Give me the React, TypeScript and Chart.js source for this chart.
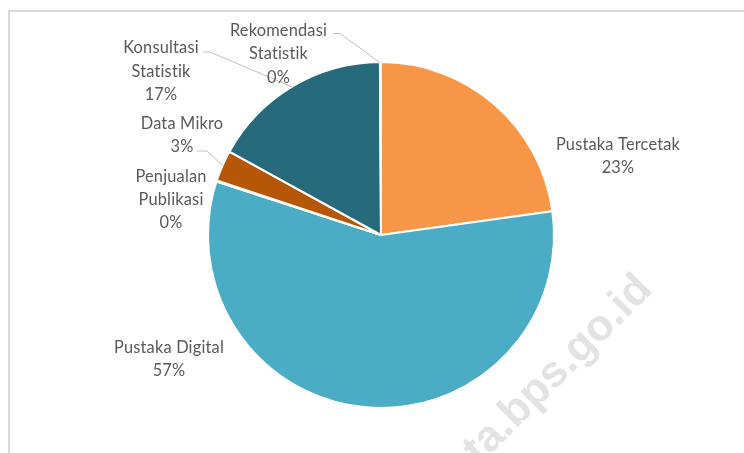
import React, { useEffect, useRef } from 'react';
import { Chart, registerables } from 'chart.js';

Chart.register(...registerables);

// ---- data ----
const categories = [
  'Pustaka Tercetak',
  'Pustaka Digital',
  'Penjualan Publikasi',
  'Data Mikro',
  'Konsultasi Statistik',
  'Rekomendasi Statistik',
];
const values = [22.8, 57.2, 0.1, 2.9, 16.9, 0.1];
const colors = ['#F79646', '#4BACC6', '#9BBB59', '#B65708', '#276A7C', '#77933C'];
const labelLines = [
  ['Pustaka Tercetak'],
  ['Pustaka Digital'],
  ['Penjualan', 'Publikasi'],
  ['Data Mikro'],
  ['Konsultasi', 'Statistik'],
  ['Rekomendasi', 'Statistik'],
];
const watermarkText = 'ta.bps.go.id';

// ---- layout (label placement, not data) ----
const W = 744;
const H = 453;
const lineH = 23.3;
const labelLayout = [
  { cx: 618, base: 150 },
  { cx: 169, base: 352.7 },
  { cx: 171, base: 181.5 },
  { cx: 182, base: 129 },
  { cx: 161, base: 53.3 },
  { cx: 278.5, base: 36 },
];
const leaders: (null | { start: [number, number]; elbow: [number, number] })[] = [
  null,
  null,
  null,
  { start: [197, 151], elbow: [207, 151] },
  { start: [203, 52], elbow: [210, 52] },
  { start: [333, 33.5], elbow: [340, 33.5] },
];

const labelPlugin = {
  id: 'pieDecor',
  beforeDraw(chart: any) {
    const ctx = chart.ctx;
    ctx.save();
    ctx.fillStyle = '#FFFFFF';
    ctx.fillRect(0, 0, W, H);
    ctx.fillStyle = '#D9D9D9';
    ctx.fillRect(8, 10, W - 8, 2);
    ctx.fillRect(8, 10, 2, H - 10);
    ctx.restore();
  },
  beforeDatasetsDraw(chart: any) {
    const ctx = chart.ctx;
    ctx.save();
    ctx.translate(654, 291);
    ctx.rotate(-Math.PI / 4);
    ctx.font = 'bold 44px "Liberation Sans", Arial, sans-serif';
    ctx.fillStyle = '#E3E3E3';
    ctx.textAlign = 'right';
    ctx.textBaseline = 'alphabetic';
    ctx.fillText(watermarkText, 0, 0);
    ctx.restore();
  },
  afterDatasetsDraw(chart: any) {
    const ctx = chart.ctx;
    const meta = chart.getDatasetMeta(0);
    const total = values.reduce((a, b) => a + b, 0);
    ctx.save();
    ctx.font = '17px Lato, "Open Sans", sans-serif';
    try {
      (ctx as any).letterSpacing = '0.2px';
    } catch (e) {
      /* ignore */
    }
    const measured = ctx.measureText('Pustaka Digital').width;
    const sx = measured > 0 ? 110 / measured : 1;
    ctx.fillStyle = '#595959';
    ctx.textAlign = 'center';
    ctx.textBaseline = 'alphabetic';
    labelLines.forEach((lines, i) => {
      const pct = Math.round((values[i] / total) * 100) + '%';
      const all = [...lines, pct];
      const L = labelLayout[i];
      all.forEach((t, j) => {
        ctx.save();
        ctx.translate(L.cx, L.base + j * lineH);
        ctx.scale(sx, 1);
        ctx.fillText(t, 0, 0);
        ctx.restore();
      });
      const lead = leaders[i];
      if (lead) {
        const arc = meta.data[i];
        const p = arc.getProps(['x', 'y', 'startAngle', 'endAngle', 'outerRadius'], true);
        const mid = (p.startAngle + p.endAngle) / 2;
        const r = p.outerRadius - 1;
        const ex = p.x + Math.cos(mid) * r;
        const ey = p.y + Math.sin(mid) * r;
        ctx.beginPath();
        ctx.strokeStyle = '#BFBFBF';
        ctx.lineWidth = 1;
        ctx.moveTo(lead.start[0], lead.start[1]);
        ctx.lineTo(lead.elbow[0], lead.elbow[1]);
        ctx.lineTo(ex, ey);
        ctx.stroke();
      }
    });
    ctx.restore();
  },
};

export default function App() {
  const ref = useRef<HTMLCanvasElement | null>(null);
  useEffect(() => {
    if (!ref.current) return;
    const chart = new Chart(ref.current, {
      type: 'pie',
      data: {
        labels: categories,
        datasets: [
          {
            data: values,
            backgroundColor: colors,
            borderColor: '#FFFFFF',
            borderWidth: 2,
          },
        ],
      },
      options: {
        responsive: false,
        animation: false,
        radius: 173,
        layout: { padding: { left: 209, right: 191, top: 63, bottom: 46 } },
        plugins: {
          legend: { display: false },
          tooltip: { enabled: false },
        },
      } as any,
      plugins: [labelPlugin],
    });
    return () => chart.destroy();
  }, []);
  return (
    <div style={{ position: 'fixed', left: 0, top: 0, width: W, height: H, background: '#fff' }}>
      <canvas ref={ref} width={W} height={H} style={{ display: 'block', width: W, height: H }} />
    </div>
  );
}
